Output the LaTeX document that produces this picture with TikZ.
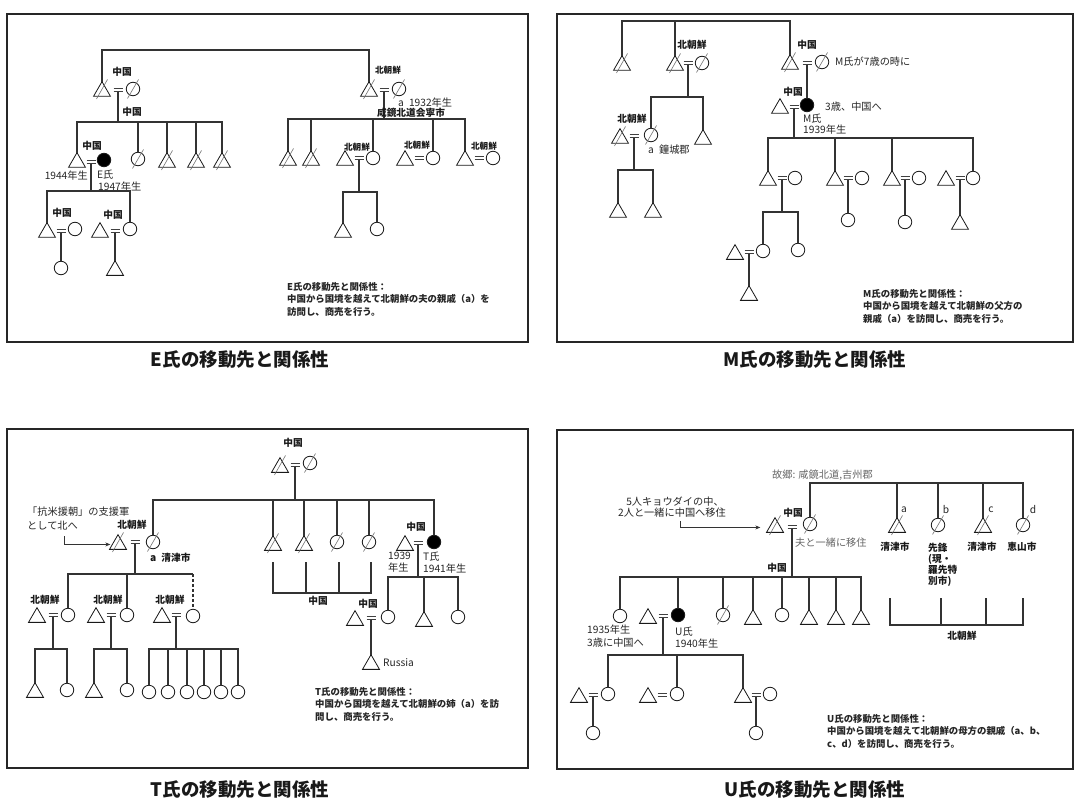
\documentclass[tikz,border=0pt]{standalone}
\usepackage{fontspec}
\setmainfont{Noto Sans CJK JP}
\usetikzlibrary{shapes.geometric,calc,arrows.meta}
\newcommand\labfont{\fontsize{9.7}{11}\selectfont\bfseries}
\newcommand\labsfont{\fontsize{8.6}{10}\selectfont\bfseries}
\newcommand\txtfont{\fontsize{10.2}{11.5}\selectfont}
\newcommand\notefont{\fontsize{9.4}{12.4}\selectfont\bfseries}
\newcommand\capfont{\fontsize{18.5}{20}\selectfont\bfseries}
\newcommand\Ma[3]{\node[male] (#1) at (#2,#3) {};}
\newcommand\Fe[3]{\node[female] (#1) at (#2,#3) {};}
\newcommand\Eg[3]{\node[ego] (#1) at (#2,#3) {};}
\newcommand\DM[1]{\draw[slash] ($(#1.center)+(-5.5,7.5)$) -- ($(#1.center)+(5.5,-12)$);}
\newcommand\DF[1]{\draw[slash] ($(#1.center)+(-5.5,9.5)$) -- ($(#1.center)+(5.5,-9.5)$);}
\newcommand\Eq[3]{\coordinate (#1) at (#2,#3); \draw[eqs] ($(#1)+(-4.5,-1.6)$) -- ++(9,0) ($(#1)+(-4.5,1.6)$) -- ++(9,0); \coordinate (#1d) at ($(#1)+(0,1.6)$);}
\newcommand\Kids[3]{\foreach \k in {#3}{\draw[conn] (#1) -- (#2) -| (\k);}}
\tikzset{
  sym/.style={draw=black!90, line width=0.8pt, inner sep=0pt, outer sep=0pt},
  male/.style={sym, regular polygon, regular polygon sides=3, minimum size=19.6pt, yshift=-2.45pt},
  female/.style={sym, circle, minimum size=13.5pt},
  ego/.style={female, fill=black},
  conn/.style={draw=black!80, line width=1.3pt},
  eqs/.style={draw=black!75, line width=0.9pt},
  slash/.style={draw=black!55, line width=0.6pt},
  lab/.style={font=\labfont, inner sep=0pt, text=black!90},
  labs/.style={font=\labsfont, inner sep=0pt, text=black!90},
  txt/.style={font=\txtfont, inner sep=0pt, text=black!85},
  gtxt/.style={font=\txtfont, inner sep=0pt, text=black!60},
  note/.style={font=\notefont, inner sep=0pt, align=left, anchor=north west, text=black!85},
  captxt/.style={font=\capfont, inner sep=0pt, text=black!90},
  panel/.style={draw=black!85, line width=1.2pt},
  arr/.style={draw=black!80, line width=0.7pt, -{Stealth[length=5pt,width=4pt]}},
}
\begin{document}
\begin{tikzpicture}[x=1pt,y=-1pt]
\useasboundingbox (0,0) rectangle (1079,805);
\fill[white] (0,0) rectangle (1079,805);
% ================= Panel E =================
\draw[panel] (7,14) rectangle (528,342);
\Ma{ea}{102}{89}\DM{ea}
\Eq{e1}{118}{90}
\Fe{eb}{133}{89}\DF{eb}
\Ma{ec}{369}{89}\DM{ec}
\Eq{e2}{384}{90}
\Fe{ed}{399}{89}\DF{ed}
\coordinate (eTop) at (102,50);
\draw[conn] (ea.corner 1) -- (eTop) -| (ec.corner 1);
\node[lab] at (122,72) {中国};
\node[labs] at (388,70) {北朝鮮};
\Ma{ef}{77}{160}
\Eq{e3}{91}{162}
\Eg{ee}{104}{160}
\Fe{eg}{138}{159}\DF{eg}
\Ma{eh}{167}{160}\DM{eh}
\Ma{ei}{196}{160}\DM{ei}
\Ma{ej}{222}{160}\DM{ej}
\coordinate (e1b) at (118,122);
\Kids{e1d}{e1b}{ef.corner 1, eg.north, eh.corner 1, ei.corner 1, ej.corner 1}
\node[lab] at (132,112) {中国};
\node[lab] at (92,146) {中国};
\node[txt, anchor=east] at (88,176) {1944年生};
\node[txt, anchor=west] at (97,175) {E氏};
\node[txt, anchor=west] at (98,187) {1947年生};
\Ma{ek}{47}{230}\Eq{e4}{61}{231}\Fe{el}{75}{229}
\Ma{en}{100}{230}\Eq{e5}{115}{231}\Fe{eo}{130}{229}
\coordinate (e3b) at (91,191);
\Kids{e3d}{e3b}{ek.corner 1, eo.north}
\node[lab] at (62,213) {中国};
\node[lab] at (113,215) {中国};
\Fe{em}{61}{268}\draw[conn] (e4d) -- (em.north);
\Ma{ep}{115}{268}\draw[conn] (e5d) -- (ep.corner 1);
\coordinate (e2b) at (384,119);
\Ma{eq}{288}{158}\DM{eq}
\Ma{er}{311}{158}\DM{er}
\Ma{et}{345}{158}\Eq{e6}{359}{158}\Fe{es}{373}{158}
\Ma{ev}{405}{158}\Eq{e7}{419}{158}\Fe{eu}{433}{158}
\Ma{ew}{465}{158}\Eq{e8}{479}{158}\Fe{ex}{493}{158}
\Kids{e2d}{e2b}{eq.corner 1, er.corner 1, es.north, eu.north, ew.corner 1}
\node[labs] at (357,147) {北朝鮮};
\node[labs] at (417,145) {北朝鮮};
\node[labs] at (484,146) {北朝鮮};
\node[txt, anchor=west] at (398,103) {a\enspace 1932年生};
\node[lab] at (411,113) {咸鏡北道会寧市};
\coordinate (e6b) at (359,192);
\Ma{ey}{343}{230}\Fe{ez}{377}{229}
\Kids{e6d}{e6b}{ey.corner 1, ez.north}
\node[note] at (287,282) {E氏の移動先と関係性：\\中国から国境を越えて北朝鮮の夫の親戚（a）を\\訪問し、商売を行う。};
\node[captxt] at (240,360) {E氏の移動先と関係性};
% ================= Panel M =================
\draw[panel] (557,14) rectangle (1073,342);
\coordinate (mTop) at (622,21);
\Ma{ma}{622}{63}\DM{ma}
\Ma{mb}{675}{63}\DM{mb}\Eq{m1}{688}{63}\Fe{mc}{702}{63}\DF{mc}
\Ma{md}{790}{62}\DM{md}\Eq{m2}{807}{63}\Fe{mx2}{822}{62}\DF{mx2}
\draw[conn] (ma.corner 1) -- (mTop) -| (md.corner 1);
\draw[conn] (mTop) -| (mb.corner 1);
\node[lab] at (692,45) {北朝鮮};
\node[lab] at (807,45) {中国};
\node[txt, anchor=west] at (835,62) {M氏が7歳の時に};
\Ma{mf}{780}{106}\Eq{m3}{794}{107}\Eg{me}{807}{105}
\draw[conn] (m2d) -- (me.north);
\node[lab] at (793,92) {中国};
\node[txt, anchor=west] at (825,107) {3歳、中国へ};
\node[txt, anchor=west] at (803,119) {M氏};
\node[txt, anchor=west] at (803,130) {1939年生};
\coordinate (m3b) at (794,138);
\Ma{mg}{768}{178}\Eq{m4}{782}{178}\Fe{mh}{795}{178}
\Ma{mi}{835}{178}\Eq{m5}{848}{178}\Fe{mj}{862}{178}
\Ma{mk}{892}{178}\Eq{m6}{905}{178}\Fe{ml}{919}{178}
\Ma{mm}{946}{178}\Eq{m7}{960}{178}\Fe{mn}{973}{178}
\Kids{m3d}{m3b}{mg.corner 1, mi.corner 1, mk.corner 1, mn.north}
\coordinate (m4b) at (782,212);
\Ma{mp}{735}{252}\Eq{m8}{749}{252}\Fe{mo}{763}{251}
\Fe{mq}{798}{250}
\Kids{m4d}{m4b}{mo.north, mq.north}
\Ma{mr}{749}{293}\draw[conn] (m8d) -- (mr.corner 1);
\Fe{ms}{848}{220}\draw[conn] (m5d) -- (ms.north);
\Fe{mt}{905}{222}\draw[conn] (m6d) -- (mt.north);
\Ma{mu}{960}{222}\draw[conn] (m7d) -- (mu.corner 1);
\coordinate (m1b) at (688,97);
\Ma{mw}{620}{136}\DM{mw}\Eq{m9}{634}{136}\Fe{mv}{651}{135}\DF{mv}
\Ma{my1}{703}{137}
\Kids{m1d}{m1b}{mv.north, my1.corner 1}
\node[lab] at (632,119) {北朝鮮};
\node[txt, anchor=west] at (648,150) {a\enspace 鐘城郡};
\coordinate (m9b) at (634,170);
\Ma{my}{618}{210}\Ma{mz}{653}{210}
\Kids{m9d}{m9b}{my.corner 1, mz.corner 1}
\node[note] at (863,289) {M氏の移動先と関係性：\\中国から国境を越えて北朝鮮の父方の\\親戚（a）を訪問し、商売を行う。};
\node[captxt] at (815,360) {M氏の移動先と関係性};
% ================= Panel T =================
\draw[panel] (7,429) rectangle (528,768);
\node[lab] at (293,443) {中国};
\Ma{ta}{280}{465}\DM{ta}\Eq{t1}{295}{465}\Fe{tb}{310}{463}\DF{tb}
\coordinate (t1b) at (295,500);
\Ma{td}{118}{542}\DM{td}\Eq{t2}{135}{542}\Fe{tc}{153}{542}\DF{tc}
\Ma{te}{273}{543}\DM{te}
\Ma{tf}{304}{543}\DM{tf}
\Fe{tg}{337}{542}\DF{tg}
\Fe{th}{369}{542}\DF{th}
\Ma{tj}{405}{543}\Eq{t3}{418}{543}\Eg{ti}{434}{542}
\Kids{t1d}{t1b}{tc.north, te.corner 1, tf.corner 1, tg.north, th.north, ti.north}
\draw[conn] (273,562) -- (273,593) -- (371,593) -- (371,562) (306,562) -- (306,593) (339,562) -- (339,593);
\node[lab] at (318,601) {中国};
\node[txt, anchor=west] at (27,512) {「抗米援朝」の支援軍};
\node[txt, anchor=west] at (27,526) {として北へ};
\coordinate (tarr) at (64,536);
\draw[arr] (tarr) |- ($(td.west)+(-2,0)$);
\node[lab] at (132,525) {北朝鮮};
\node[lab, anchor=west] at (150,558) {\txtfont a\enspace\labfont 清津市};
\node[lab] at (416,527) {中国};
\node[txt, anchor=west] at (388,556) {1939};
\node[txt, anchor=west] at (388,568) {年生};
\node[txt, anchor=west] at (423,557) {T氏};
\node[txt, anchor=west] at (423,569) {1941年生};
\coordinate (t2b) at (135,574);
\Ma{tl}{37}{615}\Eq{t4}{53}{615}\Fe{tk}{68}{615}
\Ma{tn}{96}{615}\Eq{t5}{111}{615}\Fe{tm}{127}{615}
\Ma{tp}{162}{615}\Eq{t6}{176}{615}\Fe{to}{193}{616}
\Kids{t2d}{t2b}{tk.north, tm.north}
\coordinate (t2e) at (193,574);
\draw[conn] (t2d) -- (t2b) -- (t2e);
\draw[conn, dashed, dash pattern=on 3pt off 2pt] (t2e) -- (to.north);
\node[lab] at (45,600) {北朝鮮};
\node[lab] at (108,600) {北朝鮮};
\node[lab] at (170,600) {北朝鮮};
\coordinate (t4b) at (53,649);
\Ma{tq}{35}{690}\Fe{tr}{67}{690}
\Kids{t4d}{t4b}{tq.corner 1, tr.north}
\coordinate (t5b) at (111,649);
\Ma{ts}{94}{690}\Fe{tt}{127}{690}
\Kids{t5d}{t5b}{ts.corner 1, tt.north}
\coordinate (t6b) at (176,649);
\Fe{g1}{149}{692}\Fe{g2}{168}{692}\Fe{g3}{187}{692}\Fe{g4}{204}{692}\Fe{g5}{221}{692}\Fe{g6}{238}{692}
\Kids{t6d}{t6b}{g1.north, g2.north, g3.north, g4.north, g5.north, g6.north}
\coordinate (t3b) at (418,577);
\Ma{tv}{355}{618}\Eq{t7}{371}{618}\Fe{tu}{388}{617}
\Ma{tw}{424}{619}
\Fe{tx}{458}{617}
\Kids{t3d}{t3b}{tu.north, tw.corner 1, tx.north}
\node[lab] at (368,604) {中国};
\Ma{ty}{371}{662}\draw[conn] (t7d) -- (ty.corner 1);
\node[txt, anchor=west] at (383,663) {Russia};
\node[note] at (315,687) {T氏の移動先と関係性：\\中国から国境を越えて北朝鮮の姉（a）を訪\\問し、商売を行う。};
\node[captxt] at (240,790) {T氏の移動先と関係性};
% ================= Panel U =================
\draw[panel] (557,430) rectangle (1073,769);
\node[gtxt, anchor=west] at (772,475) {故郷: 咸鏡北道,吉州郡};
\coordinate (uTop) at (810,483);
\Ma{ua}{775}{525}\DM{ua}\Eq{u1}{792}{527}\Fe{ub}{810}{524}\DF{ub}
\Ma{uc}{897}{525}\DM{uc}
\Fe{ud}{938}{525}\DF{ud}
\Ma{ue}{983}{525}\DM{ue}
\Fe{uf}{1023}{525}\DF{uf}
\draw[conn] (ub.north) -- (uTop) -| (uf.north);
\foreach \k in {uc.corner 1, ud.north, ue.corner 1}{\draw[conn] (uTop) -| (\k);}
\node[txt] at (904,510) {a};
\node[txt] at (946,510) {b};
\node[txt] at (991,510) {c};
\node[txt] at (1033,510) {d};
\node[lab] at (895,547) {清津市};
\node[lab, align=left, anchor=north west] at (928,543) {先鋒\\(現・\\羅先特\\別市)};
\node[lab] at (982,547) {清津市};
\node[lab] at (1022,547) {恵山市};
\draw[conn] (890,598) -- (890,625) -- (1023,625) -- (1023,598) (941,598) -- (941,625) (986,598) -- (986,625);
\node[lab] at (962,636) {北朝鮮};
\node[txt] at (675,502) {5人キョウダイの中、};
\node[txt] at (672,513) {2人と一緒に中国へ移住};
\coordinate (uarr) at (680,521);
\draw[arr] (uarr) |- ($(ua.west)+(-9,0)$);
\node[lab] at (793,513) {中国};
\node[gtxt, anchor=west] at (795,543) {夫と一緒に移住};
\coordinate (u1b) at (792,577);
\node[lab] at (777,568) {中国};
\Fe{ug}{620}{616}
\Ma{ui}{648}{616}\Eq{u2}{663}{616}\Eg{uh}{678}{615}
\Fe{uj}{723}{615}\DF{uj}
\Ma{uk}{753}{617}
\Fe{ul}{782}{615}
\Ma{um}{809}{617}
\Ma{un}{836}{617}
\Ma{uo}{861}{617}
\Kids{u1d}{u1b}{ug.north, uh.north, uj.north, uk.corner 1, ul.north, um.corner 1, un.corner 1, uo.corner 1}
\node[txt, anchor=west] at (587,630) {1935年生};
\node[txt, anchor=west] at (587,643) {3歳に中国へ};
\node[txt, anchor=west] at (675,632) {U氏};
\node[txt, anchor=west] at (675,644) {1940年生};
\coordinate (u2b) at (663,655);
\Ma{uq}{579}{695}\Eq{u3}{593}{695}\Fe{up}{608}{694}
\Ma{us}{648}{695}\Eq{u4}{662}{695}\Fe{ur}{677}{694}
\Ma{ut}{743}{695}\Eq{u5}{756}{695}\Fe{uu}{770}{694}
\Kids{u2d}{u2b}{up.north, ur.north, ut.corner 1}
\Fe{uv}{593}{733}\draw[conn] (u3d) -- (uv.north);
\Fe{uw}{756}{733}\draw[conn] (u5d) -- (uw.north);
\node[note] at (827,714) {U氏の移動先と関係性：\\中国から国境を越えて北朝鮮の母方の親戚（a、b、\\c、d）を訪問し、商売を行う。};
\node[captxt] at (815,790) {U氏の移動先と関係性};
\end{tikzpicture}
\end{document}
